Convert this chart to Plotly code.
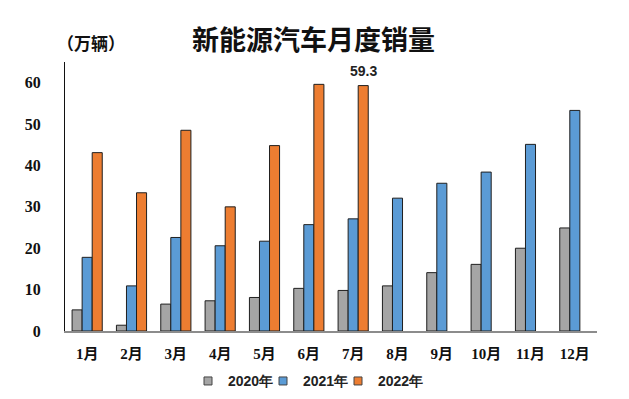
import plotly.graph_objects as go

months = ["1月", "2月", "3月", "4月", "5月", "6月", "7月", "8月", "9月", "10月", "11月", "12月"]
sales_2020 = [5.1, 1.4, 6.5, 7.3, 8.1, 10.3, 9.8, 10.9, 14.1, 16.1, 20.0, 24.9]
sales_2021 = [17.8, 10.9, 22.6, 20.6, 21.7, 25.7, 27.1, 32.1, 35.7, 38.4, 45.1, 53.3]
sales_2022 = [43.1, 33.4, 48.5, 30.0, 44.8, 59.6, 59.3, None, None, None, None, None]
series_names = ["2020年", "2021年", "2022年"]
colors = ["#A5A5A5", "#5B9BD5", "#ED7D31"]
yticks = [0, 10, 20, 30, 40, 50, 60]

# the page body has an 8px default margin; size the figure so it fills the window
OFF = 8
W, H = 629 - OFF, 399 - OFF
# plot area in page pixels: x 65..597, y 62..330.7
P_L, P_R, P_T, P_B = 65, 597, 62, 330.7
M_L, M_R, M_T, M_B = P_L - OFF, W - (P_R - OFF), P_T - OFF, H - (P_B - OFF)
plot_w = P_R - P_L
plot_h = P_B - P_T

def px_x(px):
    return (px - P_L) / plot_w

def px_y(py):
    return (P_B - py) / plot_h

BARGAP = 0.32
fig = go.Figure()
legend_ids = ["legend", "legend2", "legend3"]
legend_symbol_px = [208, 283, 358]
for name, vals, col, lid in zip(series_names, [sales_2020, sales_2021, sales_2022], colors, legend_ids):
    fig.add_trace(go.Bar(
        x=months, y=vals, name=name, showlegend=False,
        marker=dict(color=col, line=dict(color="#1f1f1f", width=1)),
    ))
    fig.add_trace(go.Scatter(
        x=[None], y=[None], mode="markers", name=name, legend=lid,
        marker=dict(symbol="square", size=8, color=col, line=dict(color="#444", width=1)),
    ))

idx = 6
fig.add_annotation(
    x=idx + (1 - BARGAP) / 3, y=sales_2022[idx], text=f"{sales_2022[idx]}",
    showarrow=False, yanchor="bottom", yshift=5,
    font=dict(family="Liberation Sans", size=14, color="#222", weight="bold"),
)

fig.add_annotation(
    x=px_x(313), xref="paper", xanchor="center", y=px_y(38.5), yref="paper", yanchor="middle",
    text="新能源汽车月度销量", showarrow=False,
    font=dict(family="Noto Sans CJK SC", size=27, color="#111", weight="bold"),
)
fig.add_annotation(
    x=px_x(55), xref="paper", xanchor="left", y=px_y(43), yref="paper", yanchor="middle",
    text="（万辆）", showarrow=False,
    font=dict(family="Noto Sans CJK SC", size=17, color="#111", weight="bold"),
)

leg_font = dict(family="Liberation Sans", size=14, color="#222", weight="bold")
layout_legends = {}
for lid, sx in zip(legend_ids, legend_symbol_px):
    layout_legends[lid] = dict(
        orientation="h", x=px_x(sx - 20), xanchor="left", y=px_y(381), yanchor="middle",
        font=leg_font, itemwidth=30, bgcolor="rgba(0,0,0,0)",
    )

fig.update_layout(
    width=W, height=H,
    margin=dict(l=M_L, r=M_R, t=M_T, b=M_B, autoexpand=False),
    paper_bgcolor="white", plot_bgcolor="white",
    barmode="group", bargap=BARGAP, bargroupgap=0,
    showlegend=True,
    **layout_legends,
)

fig.update_xaxes(
    showline=True, linecolor="#8c8c8c", linewidth=2, ticks="", showgrid=False,
    ticklabelstandoff=8,
    tickfont=dict(family="Liberation Serif, Noto Sans CJK SC", size=15, color="#111", weight="bold"),
)
fig.update_yaxes(
    range=[0, 65], tickvals=yticks, showgrid=False, zeroline=False,
    showline=True, linecolor="#111", linewidth=1, ticks="", ticklabelstandoff=20,
    tickfont=dict(family="Liberation Serif", size=16, color="#111", weight="bold"),
)

fig.write_html("out.html")
